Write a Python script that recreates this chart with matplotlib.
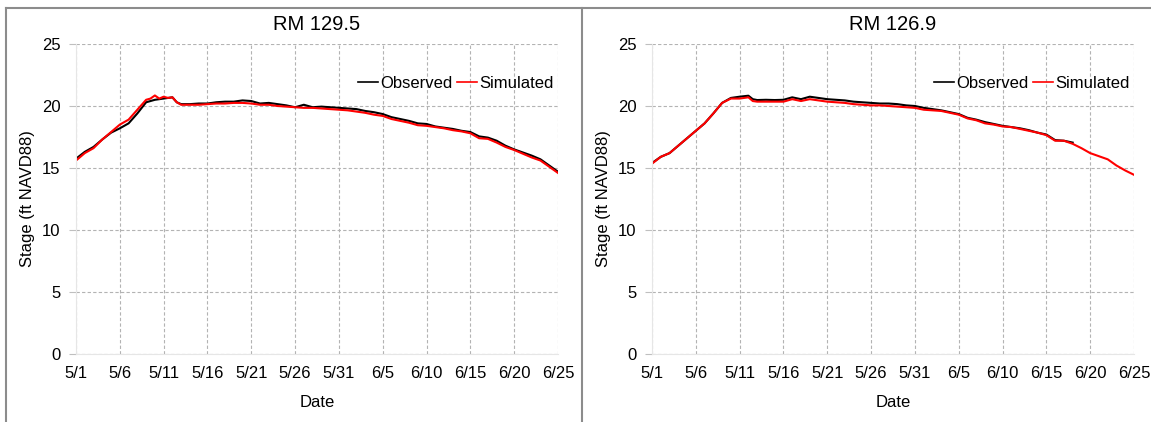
import numpy as np
import matplotlib
matplotlib.use('Agg')
import matplotlib.pyplot as plt
from matplotlib.lines import Line2D

plt.rcParams['font.family'] = ['Liberation Sans', 'DejaVu Sans']

# days since 5/1
tick_days = [0, 5, 10, 15, 20, 25, 30, 35, 40, 45, 50, 55]
tick_labels = ['5/1', '5/6', '5/11', '5/16', '5/21', '5/26', '5/31',
               '6/5', '6/10', '6/15', '6/20', '6/25']

# RM 129.5
day_obs_a = [0, 1, 2, 3, 4, 5, 6, 7, 8, 9, 10, 11, 11.5, 12, 13, 14, 15, 16, 17, 18,
             19, 20, 21, 22, 23, 24, 25, 26, 27, 28, 29, 30, 31, 32, 33, 34, 35, 36,
             37, 38, 39, 40, 41, 42, 43, 44, 45, 46, 47, 48, 49, 50, 51, 52, 53, 54, 55]
obs_a = [15.75, 16.3, 16.7, 17.3, 17.85, 18.2, 18.6, 19.4, 20.3, 20.5, 20.6, 20.7, 20.3,
         20.15, 20.15, 20.2, 20.2, 20.3, 20.35, 20.35, 20.45, 20.4, 20.2, 20.25, 20.15,
         20.05, 19.9, 20.1, 19.9, 19.95, 19.9, 19.85, 19.8, 19.75, 19.6, 19.5, 19.35,
         19.1, 18.95, 18.8, 18.6, 18.55, 18.35, 18.25, 18.15, 18.0, 17.9, 17.55, 17.45,
         17.2, 16.8, 16.5, 16.25, 16.0, 15.7, 15.2, 14.7]
day_sim_a = [0, 1, 2, 3, 4, 5, 6, 7, 8, 8.5, 9, 9.5, 10, 10.5, 11, 11.5, 12, 13, 14, 15,
             16, 17, 18, 19, 20, 21, 22, 23, 24, 25, 26, 27, 28, 29, 30, 31, 32, 33, 34,
             35, 36, 37, 38, 39, 40, 41, 42, 43, 44, 45, 46, 47, 48, 49, 50, 51, 52, 53,
             54, 55]
sim_a = [15.6, 16.2, 16.6, 17.3, 17.9, 18.5, 18.9, 19.7, 20.5, 20.6, 20.85, 20.6, 20.75,
         20.65, 20.7, 20.3, 20.1, 20.1, 20.1, 20.15, 20.2, 20.2, 20.25, 20.25, 20.2, 20.1,
         20.1, 20.0, 19.95, 19.9, 19.85, 19.85, 19.8, 19.75, 19.7, 19.65, 19.55, 19.45,
         19.3, 19.2, 18.95, 18.8, 18.65, 18.45, 18.4, 18.3, 18.2, 18.05, 17.95, 17.8, 17.4,
         17.35, 17.05, 16.7, 16.45, 16.15, 15.85, 15.6, 15.1, 14.6]

# RM 126.9
day_obs_b = [0, 1, 2, 3, 4, 5, 6, 7, 8, 9, 10, 11, 11.5, 12, 13, 14, 15, 16, 17, 18,
             19, 20, 21, 22, 23, 24, 25, 26, 27, 28, 29, 30, 31, 32, 33, 34, 35, 36,
             37, 38, 39, 40, 41, 42, 43, 44, 45, 46, 47, 48]
obs_b = [15.4, 15.9, 16.2, 16.8, 17.4, 18.0, 18.6, 19.4, 20.25, 20.65, 20.75, 20.83,
         20.55, 20.48, 20.5, 20.48, 20.5, 20.7, 20.55, 20.75, 20.65, 20.55, 20.5, 20.45,
         20.35, 20.3, 20.25, 20.2, 20.2, 20.15, 20.05, 20.0, 19.85, 19.75, 19.65, 19.5,
         19.35, 19.05, 18.9, 18.7, 18.55, 18.4, 18.3, 18.2, 18.05, 17.85, 17.7, 17.25,
         17.2, 17.05]
day_sim_b = [0, 1, 2, 3, 4, 5, 6, 7, 8, 9, 10, 11, 11.5, 12, 13, 14, 15, 16, 17, 18,
             19, 20, 21, 22, 23, 24, 25, 26, 27, 28, 29, 30, 31, 32, 33, 34, 35, 36,
             37, 38, 39, 40, 41, 42, 43, 44, 45, 46, 47, 48, 49, 50, 51, 52, 53, 54, 55]
sim_b = [15.35, 15.9, 16.2, 16.8, 17.4, 18.0, 18.6, 19.4, 20.25, 20.6, 20.6, 20.7, 20.4,
         20.35, 20.35, 20.35, 20.35, 20.55, 20.4, 20.55, 20.45, 20.35, 20.3, 20.25, 20.15,
         20.1, 20.05, 20.05, 20.0, 19.95, 19.9, 19.85, 19.7, 19.65, 19.6, 19.45, 19.3,
         19.0, 18.85, 18.6, 18.5, 18.35, 18.3, 18.15, 18.0, 17.85, 17.65, 17.2, 17.2,
         16.95, 16.6, 16.2, 15.95, 15.7, 15.2, 14.8, 14.45]

W, H = 1151, 422
fig = plt.figure(figsize=(W / 100, H / 100), dpi=100)

panels = [
    ('RM 129.5', 76, day_obs_a, obs_a, day_sim_a, sim_a),
    ('RM 126.9', 652, day_obs_b, obs_b, day_sim_b, sim_b),
]

for title, x0, dobs, obs, dsim, sim in panels:
    ax = fig.add_axes([x0 / W, 68 / H, 482 / W, 310 / H])
    ax.plot(dobs, obs, color='black', lw=1.5, label='Observed')
    ax.plot(dsim, sim, color='#ff0000', lw=1.5, label='Simulated')
    ax.set_xlim(0, 55)
    ax.set_ylim(0, 25)
    ax.set_xticks(tick_days)
    ax.set_xticklabels(tick_labels)
    ax.set_yticks([0, 5, 10, 15, 20, 25])
    ax.grid(True, color='#b3b3b3', lw=0.8, ls=(0, (3, 2)))
    ax.set_axisbelow(True)
    for s in ['top', 'right']:
        ax.spines[s].set_visible(False)
    for s in ['left', 'bottom']:
        ax.spines[s].set_color('#e6e6e6')
        ax.spines[s].set_linewidth(0.8)
    ax.tick_params(axis='x', length=0, pad=9, labelsize=12)
    ax.tick_params(axis='y', length=5, color='#bfbfbf', width=0.8, pad=6, labelsize=12)
    ax.set_title(title, fontsize=14.5, pad=10)
    ax.set_xlabel('Date', fontsize=12, labelpad=10)
    ax.set_ylabel('Stage (ft NAVD88)', fontsize=12, labelpad=5)
    leg = ax.legend(loc='center right', bbox_to_anchor=(0.99, 0.874), ncol=2,
                    frameon=False, fontsize=12, handlelength=1.2, handletextpad=0.1,
                    columnspacing=0.3, borderpad=0, borderaxespad=0)
    for h in leg.get_lines():
        h.set_linewidth(1.2)

# chart-area borders
border = dict(color='#8c8c8c', lw=1.5, transform=fig.transFigure)
fig.add_artist(Line2D([6 / W, 1], [1 - 8 / H, 1 - 8 / H], **border))
fig.add_artist(Line2D([6 / W, 6 / W], [0, 1 - 8 / H], **border))
fig.add_artist(Line2D([582 / W, 582 / W], [0, 1 - 8 / H], **border))

fig.savefig('out.png', dpi=100)
